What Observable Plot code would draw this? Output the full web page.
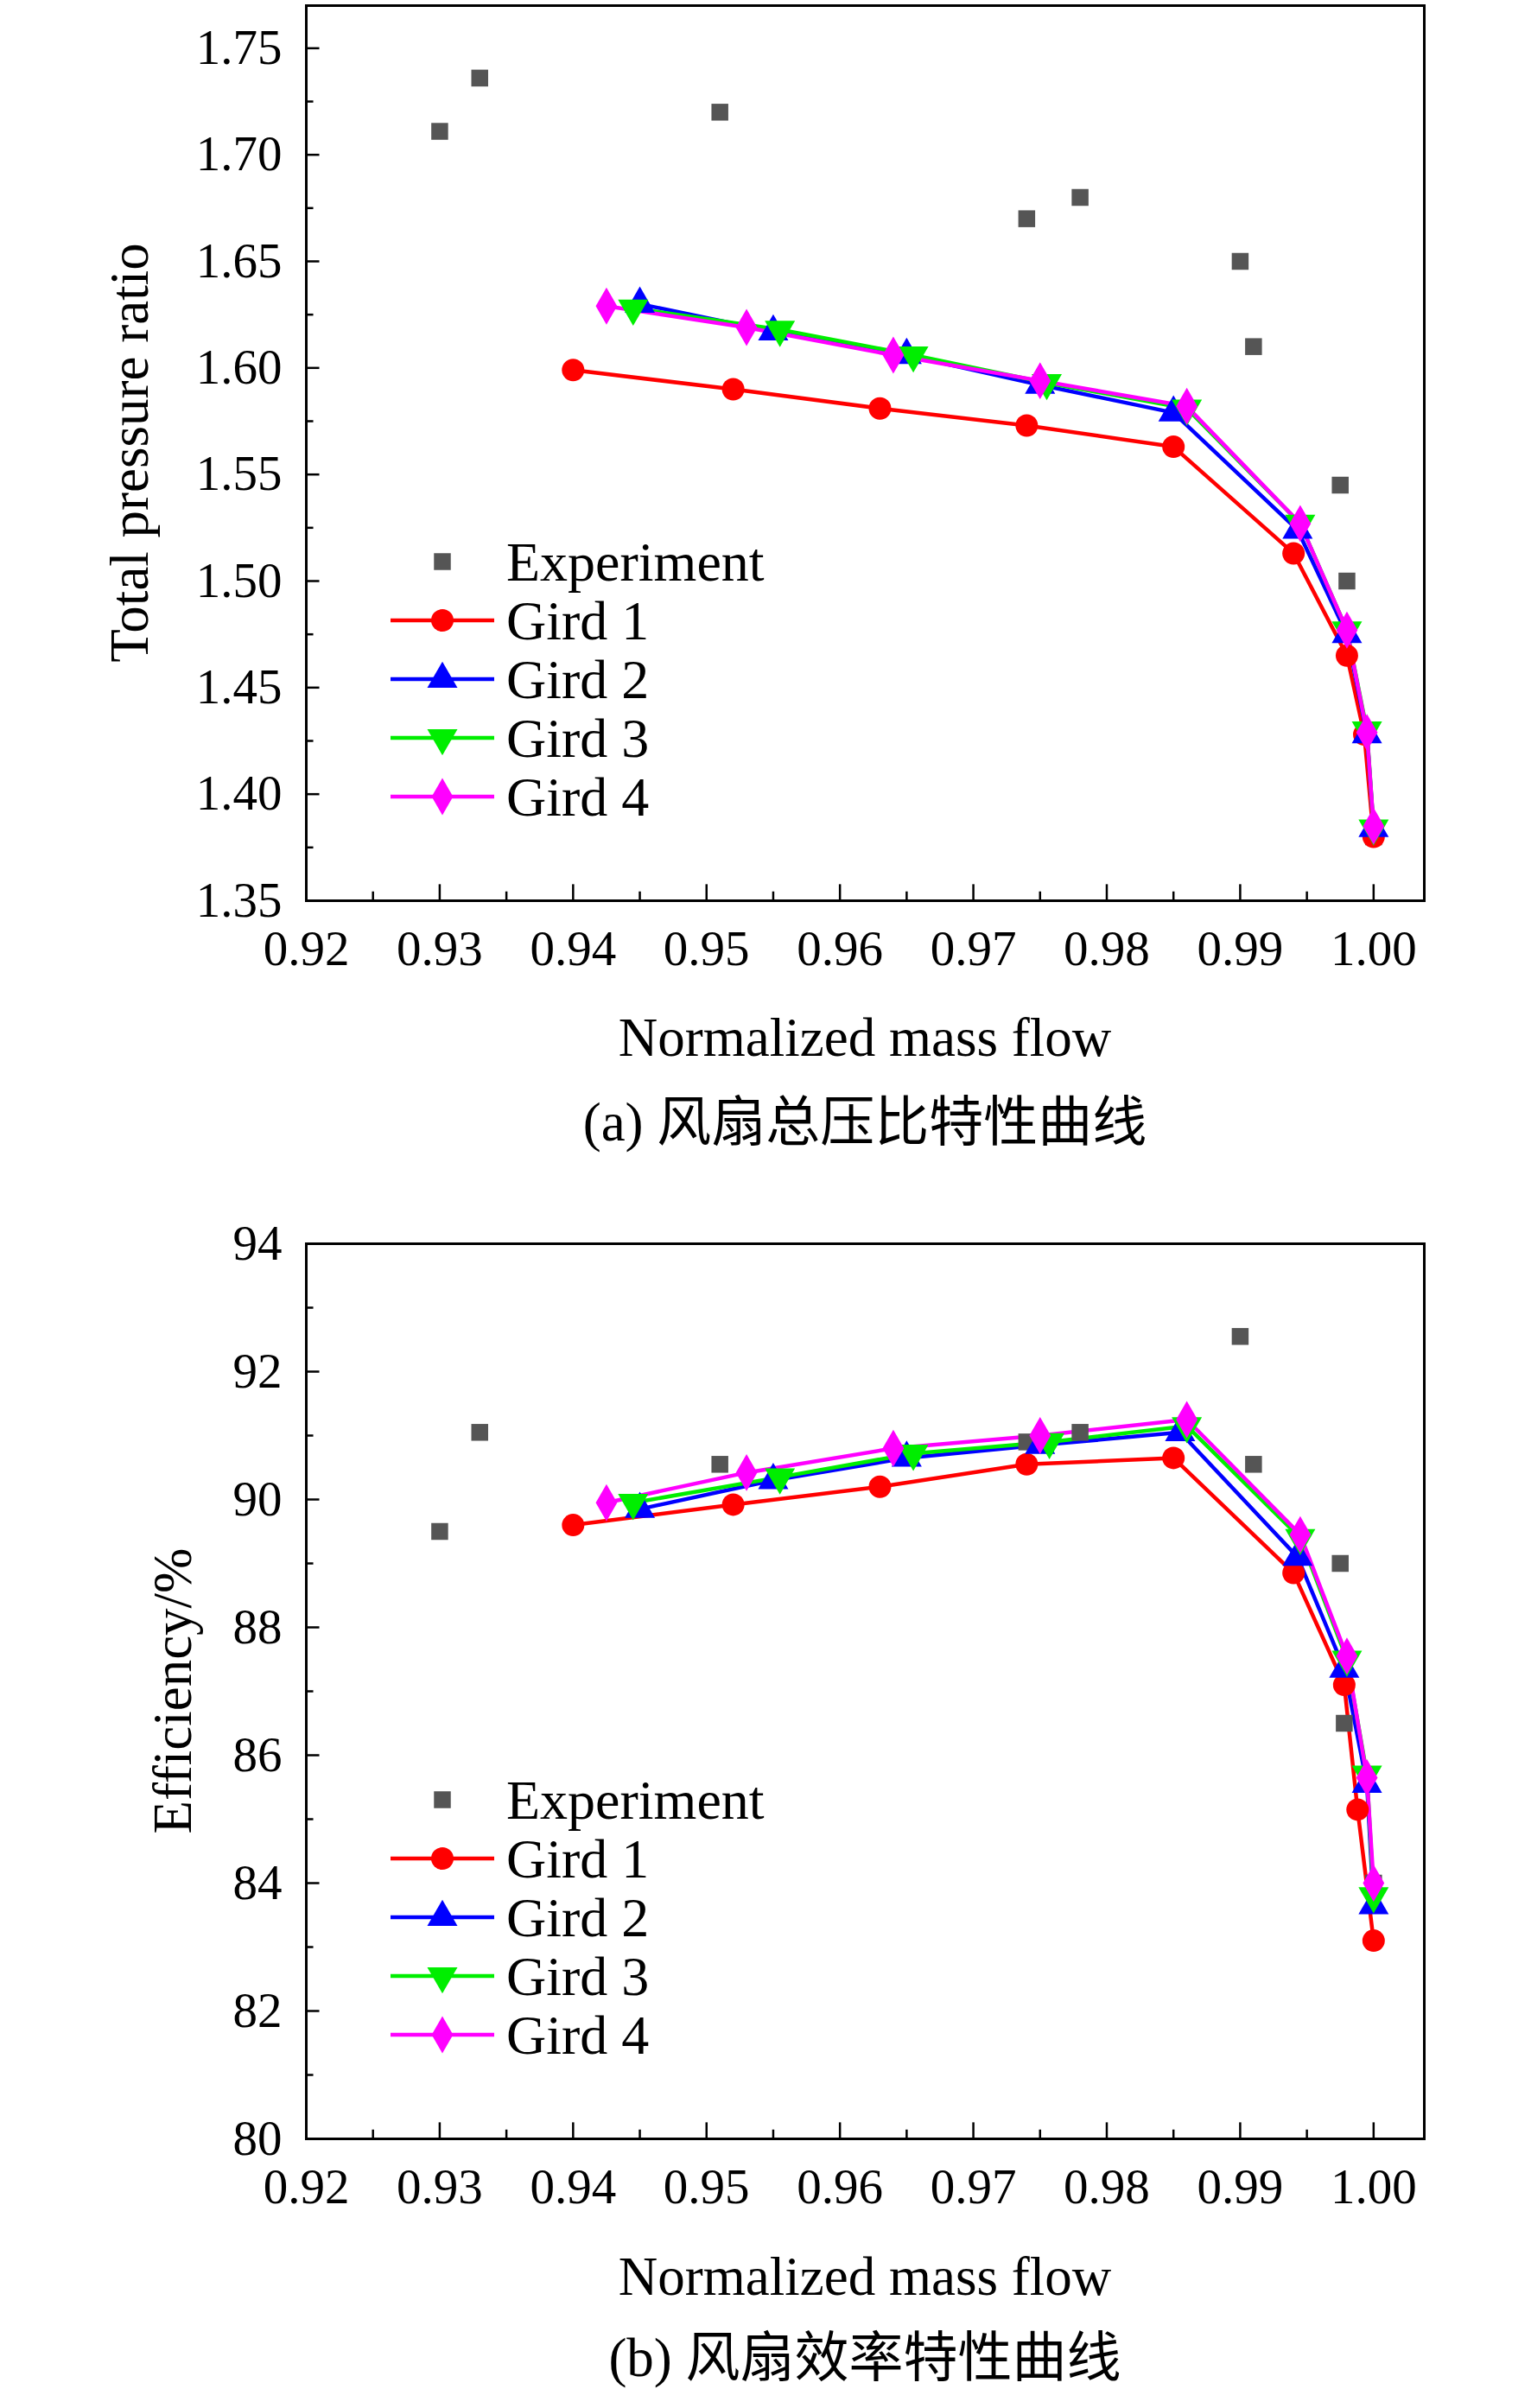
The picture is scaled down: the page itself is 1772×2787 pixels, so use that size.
<!DOCTYPE html>
<html><head><meta charset="utf-8">
<script src="https://cdn.jsdelivr.net/npm/d3@7"></script>
<script src="https://cdn.jsdelivr.net/npm/@observablehq/plot@0.6"></script>
<style>
body{margin:0;background:#fff;font-family:"Liberation Serif","Times New Roman",serif;}
#wrap{position:relative;width:1772px;height:2787px;overflow:hidden;}
.abs{position:absolute;white-space:nowrap;color:#000;}
</style></head><body><div id="wrap"></div>
<script>
const series = ["Experiment","Gird 1","Gird 2","Gird 3","Gird 4"];
const colors = ["#555555","#ff0000","#0000ff","#00ee00","#ff00ff"];
const symbols = ["square","circle","triangle","triangle","diamond"];
const rotates = [0,0,0,180,0];

const xTicks = [0.92,0.93,0.94,0.95,0.96,0.97,0.98,0.99,1.00];
const prTicks = [1.35,1.40,1.45,1.50,1.55,1.60,1.65,1.70,1.75];
const effTicks = [80,82,84,86,88,90,92,94];

// (a) total pressure ratio
const prExpX = [0.930,0.933,0.951,0.974,0.978,0.990,0.991,0.9975,0.998,1.000];
const prExpY = [1.711,1.736,1.720,1.670,1.680,1.650,1.610,1.545,1.500,1.380];
const prG1X = [0.940,0.952,0.963,0.974,0.985,0.994,0.998,0.9993,1.000];
const prG1Y = [1.599,1.590,1.581,1.573,1.563,1.513,1.465,1.428,1.380];
const prG2X = [0.945,0.955,0.965,0.975,0.985,0.9943,0.998,0.9995,1.000];
const prG2Y = [1.630,1.617,1.606,1.592,1.579,1.524,1.475,1.428,1.384];
const prG3X = [0.9445,0.9555,0.9655,0.9755,0.986,0.9945,0.998,0.9995,1.000];
const prG3Y = [1.628,1.618,1.606,1.593,1.581,1.527,1.477,1.430,1.384];
const prG4X = [0.9425,0.953,0.964,0.975,0.986,0.9945,0.998,0.9995,1.000];
const prG4Y = [1.629,1.619,1.606,1.594,1.582,1.527,1.477,1.429,1.385];

// (b) efficiency
const efExpX = [0.930,0.933,0.951,0.974,0.978,0.990,0.991,0.9975,0.9978,1.000];
const efExpY = [89.5,91.05,90.55,90.9,91.05,92.55,90.55,89.0,86.5,84.0];
const efG1X = [0.940,0.952,0.963,0.974,0.985,0.994,0.9978,0.9988,1.000];
const efG1Y = [89.6,89.92,90.2,90.55,90.65,88.85,87.1,85.15,83.1];
const efG2X = [0.945,0.955,0.965,0.975,0.9855,0.9943,0.9978,0.9995,1.000];
const efG2Y = [89.85,90.3,90.65,90.85,91.05,89.1,87.35,85.55,83.65];
const efG3X = [0.9445,0.9555,0.9655,0.9757,0.986,0.9945,0.998,0.9995,1.000];
const efG3Y = [89.95,90.35,90.72,90.9,91.15,89.4,87.5,85.7,83.8];
const efG4X = [0.9425,0.953,0.964,0.975,0.986,0.9945,0.998,0.9995,1.000];
const efG4Y = [89.95,90.42,90.8,91.0,91.25,89.45,87.55,85.65,84.0];

function rows(xs, ys, s){ return xs.map((x,i)=>({x, y: ys[i], s})); }

const wrap = document.getElementById("wrap");
function addDiv(html, css){ const d=document.createElement("div"); d.className="abs"; d.innerHTML=html; Object.assign(d.style, css); wrap.appendChild(d); return d; }

function makeChart(frameTop, data, yDomain, yTicks, yMinor, yFmt, yLabel, yLabelX, legendTop, xLabelTop, caption, captionTop){
  const xDomain=[0.92,1.0038];
  const xMinor = d3.range(0.925,1.0,0.01);
  const yLen = (yDomain[1]-yDomain[0])*0.018, yLen2 = yLen*0.55;
  const xLen = (xDomain[1]-xDomain[0])*0.012, xLen2 = xLen*0.55;
  const marks = [
    Plot.ruleX(xTicks,{x:d=>d,y1:yDomain[0],y2:yDomain[0]+yLen,stroke:"#000",strokeWidth:2.5}),
    Plot.ruleX(xMinor,{x:d=>d,y1:yDomain[0],y2:yDomain[0]+yLen2,stroke:"#000",strokeWidth:2.5}),
    Plot.ruleY(yTicks,{y:d=>d,x1:xDomain[0],x2:xDomain[0]+xLen,stroke:"#000",strokeWidth:2.5}),
    Plot.ruleY(yMinor,{y:d=>d,x1:xDomain[0],x2:xDomain[0]+xLen2,stroke:"#000",strokeWidth:2.5}),
    Plot.axisX({ticks:xTicks,tickSize:0,tickPadding:34,tickFormat:d3.format(".2f"),fontSize:57,label:null}),
    Plot.axisY({ticks:yTicks,tickSize:0,tickPadding:28,tickFormat:yFmt,fontSize:57,label:null}),
  ];
  data.forEach((d,i)=>{
    if(i>0) marks.push(Plot.line(d,{x:"x",y:"y",stroke:colors[i],strokeWidth:4.5}));
  });
  data.forEach((d,i)=>{
    marks.push(Plot.dot(d,{x:"x",y:"y",symbol:()=>symbols[i],fill:colors[i],stroke:"none",r:i==0?11:13,rotate:rotates[i]}));
  });
  marks.push(Plot.frame({stroke:"#000",strokeWidth:3}));
  const svg = Plot.plot({
    width:1772,height:1176,marginTop:40,marginBottom:100,marginLeft:354,marginRight:124,
    style:{fontFamily:"Liberation Serif, serif",fontSize:"57px",background:"transparent",color:"#000"},
    x:{domain:xDomain},y:{domain:yDomain},
    symbol:{type:"identity"},
    marks
  });
  const holder=document.createElement("div"); holder.style.position="absolute"; holder.style.left="0"; holder.style.top=(frameTop-40)+"px";
  holder.appendChild(svg); wrap.appendChild(holder);

  addDiv(yLabel,{fontSize:"63px",left:yLabelX+"px",top:(frameTop+518)+"px",transform:"translate(-50%,-50%) rotate(-90deg)",lineHeight:"1"});
  addDiv("Normalized mass flow",{fontSize:"63px",left:"1001px",top:xLabelTop+"px",transform:"translate(-50%,-50%)",lineHeight:"1"});
  addDiv(caption,{fontSize:"63px",left:"1001px",top:captionTop+"px",transform:"translate(-50%,-50%)",lineHeight:"1",fontFamily:"Liberation Serif, 'Noto Sans CJK SC', serif"});

  const lg = d3.create("svg").attr("width",560).attr("height",360);
  series.forEach((s,i)=>{
    const g=lg.append("g").attr("transform",`translate(0,${36+i*68})`);
    if(i>0) g.append("line").attr("x1",2).attr("x2",122).attr("stroke",colors[i]).attr("stroke-width",4.5);
    const sym=d3.symbol().type({square:d3.symbolSquare,circle:d3.symbolCircle,triangle:d3.symbolTriangle,diamond:d3.symbolDiamond}[symbols[i]]).size(i==0?380:530);
    g.append("path").attr("d",sym()).attr("transform",`translate(62,0) rotate(${rotates[i]})`).attr("fill",colors[i]);
    g.append("text").attr("x",136).attr("y",0).attr("dy","0.35em").attr("font-size",64).attr("font-family","Liberation Serif, serif").text(s);
  });
  const lh=document.createElement("div"); lh.style.position="absolute"; lh.style.left="450px"; lh.style.top=(legendTop-36)+"px";
  lh.appendChild(lg.node()); wrap.appendChild(lh);
}

makeChart(6,
  [rows(prExpX,prExpY,0),rows(prG1X,prG1Y,1),rows(prG2X,prG2Y,2),rows(prG3X,prG3Y,3),rows(prG4X,prG4Y,4)],
  [1.35,1.77], prTicks, d3.range(1.375,1.77,0.05), d3.format(".2f"), "Total pressure ratio", 150,
  650, 1201, "(a) 风扇总压比特性曲线", 1299);

makeChart(1439,
  [rows(efExpX,efExpY,0),rows(efG1X,efG1Y,1),rows(efG2X,efG2Y,2),rows(efG3X,efG3Y,3),rows(efG4X,efG4Y,4)],
  [80,94], effTicks, d3.range(81,94,2), d3.format("d"), "Efficiency/%", 200,
  2083, 2635, "(b) 风扇效率特性曲线", 2729);
</script></body></html>
